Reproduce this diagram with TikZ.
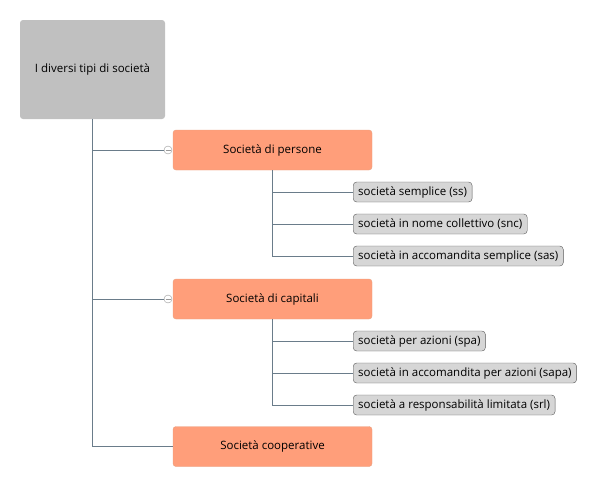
\documentclass[tikz,border=0pt]{standalone}
\usepackage{fontspec}
\setmainfont{Open Sans}
\usetikzlibrary{positioning}
\definecolor{rootgray}{HTML}{C0C0C0}
\definecolor{salmon}{HTML}{FF9E7A}
\definecolor{salmonline}{HTML}{E8A080}
\definecolor{leafgray}{HTML}{D6D6D6}
\definecolor{linegray}{HTML}{6A7C8A}
\tikzset{
  rootbox/.style={fill=rootgray, rounded corners=3pt, minimum width=145pt, minimum height=99pt},
  groupbox/.style={fill=salmon, draw=salmonline, rounded corners=3pt, minimum width=199pt, minimum height=40pt},
  leafbox/.style={fill=leafgray, draw=black!65, rounded corners=3.5pt, anchor=west, minimum height=20pt, inner xsep=5pt, inner ysep=0pt},
  fold/.style={circle, draw=gray!80, fill=white, inner sep=0pt, minimum size=8pt, path picture={\draw[gray!80] ([xshift=-2.5pt]path picture bounding box.center) -- ([xshift=2.5pt]path picture bounding box.center);}},
  link/.style={draw=linegray, line width=0.8pt}
}
\begin{document}
\begin{tikzpicture}[x=1pt,y=-1pt,font=\fontsize{11.5}{13}\selectfont]
\useasboundingbox (0,0) rectangle (599,488);
% root and the three groups
\node[rootbox] (root) at (92.5,69.5) {I diversi tipi di società};
\node[groupbox] (persone) at (272.5,150) {Società di persone};
\node[groupbox] (capitali) at (272.5,299) {Società di capitali};
\node[groupbox] (coop) at (272.5,446.5) {Società cooperative};
\node[fold] (persone-fold) at (168,150) {};
\node[fold] (capitali-fold) at (168,299) {};
% leaves
\node[leafbox] (ss) at (353,192) {società semplice (ss)};
\node[leafbox] (snc) at (353,224) {società in nome collettivo (snc)};
\node[leafbox] (sas) at (353,256) {società in accomandita semplice (sas)};
\node[leafbox] (spa) at (353,341) {società per azioni (spa)};
\node[leafbox] (sapa) at (353,373) {società in accomandita per azioni (sapa)};
\node[leafbox] (srl) at (353,405) {società a responsabilità limitata (srl)};
% connectors
\begin{scope}[on background layer/.try]
\draw[link] (root.south) |- (persone-fold.west);
\draw[link] (root.south) |- (capitali-fold.west);
\draw[link] (root.south) |- (coop.west);
\draw[link] (persone.south) |- (ss.west);
\draw[link] (persone.south) |- (snc.west);
\draw[link] (persone.south) |- (sas.west);
\draw[link] (capitali.south) |- (spa.west);
\draw[link] (capitali.south) |- (sapa.west);
\draw[link] (capitali.south) |- (srl.west);
\end{scope}
\end{tikzpicture}
\end{document}
